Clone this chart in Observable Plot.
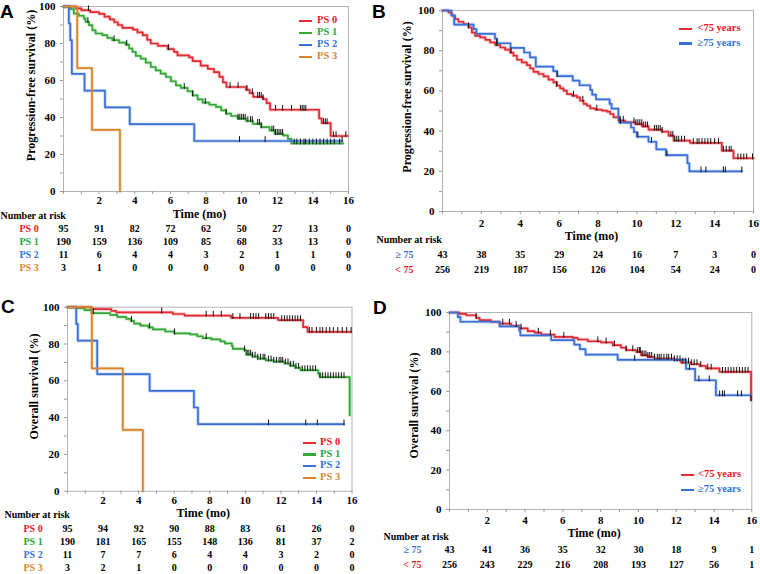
<!DOCTYPE html>
<html><head><meta charset="utf-8">
<script src="https://cdn.jsdelivr.net/npm/d3@7"></script>
<script src="https://cdn.jsdelivr.net/npm/@observablehq/plot@0.6"></script>
<style>
body{margin:0;background:#fff;}
#root{position:relative;width:760px;height:574px;overflow:hidden;font-family:'Liberation Serif','Times New Roman',serif;font-weight:bold;}
.abs{position:absolute;}
.abs svg{background:transparent;max-width:none;}
#root svg, #root svg text{font-family:'Liberation Serif','Times New Roman',serif !important;font-weight:bold !important;}
.letter{position:absolute;font-family:'Liberation Sans',Arial,sans-serif;font-weight:bold;font-size:19px;line-height:1;}
.legtxt{position:absolute;font-size:10.5px;line-height:10.5px;white-space:nowrap;}
.legline{position:absolute;height:2.6px;}
</style></head><body><div id="root"></div>
<script>
// ---------- tick labels ----------
const xTickLabels = [2, 4, 6, 8, 10, 12, 14, 16];
const yTickLabels = [0, 20, 40, 60, 80, 100];
const riskTimes = [0, 2, 4, 6, 8, 10, 12, 14, 16];

// ---------- group names ----------
const psGroups = ["PS 0", "PS 1", "PS 2", "PS 3"];
const ageLegend = ["<75 years", "\u226575 years"];
const ageTable = ["\u2265 75", "< 75"];

// ---------- Panel A: PFS by PS  [month, survival %] ----------
const pfsPS0 = [[0,100],[0.7,99],[1.0,98],[1.5,97],[2.0,96],[2.3,94.5],[2.6,93],[2.85,91.5],[3.05,90],[3.3,88.5],[3.9,87.5],[4.15,86],[4.45,84.5],[4.7,82],[4.9,80],[5.3,78.7],[5.85,77],[6.2,75.5],[6.4,73.6],[7.05,72.5],[7.25,70.5],[7.7,68],[8.1,66.3],[8.45,64.5],[8.75,62],[8.95,59],[9.15,56.5],[10.25,55],[10.45,53.2],[10.65,51.2],[11.2,50],[11.4,47.8],[11.6,44.2],[14.35,39.5],[14.5,37],[15.0,30],[15.95,30]];
const pfsPS0cens = [1.4,5.9,9.35,9.8,10.3,10.6,10.9,11.0,11.1,11.2,11.9,12.3,12.8,13.3,13.4,13.5,13.6,14.6,14.7,14.8,15.15,15.3,15.85];
const pfsPS1 = [[0,100],[0.39,98.6],[0.58,96.2],[0.86,95],[1.15,93.5],[1.24,91.7],[1.43,89.9],[1.62,87.2],[1.8,85.4],[2.18,84.5],[2.46,83],[2.74,81.8],[3.12,80.5],[3.49,79.4],[3.68,77.3],[3.87,75.5],[4.06,73.3],[4.34,71.8],[4.62,69.7],[4.9,67.3],[5.18,65.5],[5.46,63.7],[5.75,61.9],[6.03,59.6],[6.31,57.4],[6.59,56],[6.97,54.2],[7.25,52],[7.53,49.8],[7.81,48],[8.19,46.9],[8.56,45.7],[8.85,43.9],[9.13,42.1],[9.41,40.8],[9.78,39.4],[10.25,38.1],[10.63,36.6],[11.1,34.8],[11.57,33],[11.85,31.2],[12.32,30.3],[12.6,28.5],[12.79,26],[15.7,26]];
const pfsPS1cens = [1.37,2.84,3.55,6.78,7.25,7.96,9.13,9.8,9.9,10.0,10.1,10.2,10.35,10.5,10.6,10.9,11.0,11.1,11.7,11.8,11.9,12.0,12.1,12.2,12.3,12.95,13.1,13.3,13.5,13.6,13.8,14.0,14.2,14.4,14.6,14.8,15.0,15.2,15.5];
const pfsPS2 = [[0,100],[0.3,90.9],[0.38,81.8],[0.47,63.6],[1.18,54.5],[2.33,45.5],[3.72,36.4],[7.34,27.3],[15.64,27.3]];
const pfsPS2cens = [9.88,11.32,15.64];
const pfsPS3 = [[0,100],[0.77,66.7],[1.6,33.3],[3.17,0]];
const pfsPS3cens = [];

// ---------- Panel B: PFS by age ----------
const pfsLt75 = [[0,100],[0.31,99],[0.48,97.4],[0.65,95.7],[0.82,94.4],[1.08,93.2],[1.34,91.6],[1.51,89],[1.68,87.4],[1.94,86.6],[2.2,85.4],[2.45,84.1],[2.71,82.8],[2.97,81.6],[3.22,80.5],[3.48,79.1],[3.65,77.5],[3.83,75.5],[4.08,74.2],[4.34,72.8],[4.51,71.2],[4.68,69.5],[4.94,68.4],[5.2,67.2],[5.45,65.6],[5.71,64.2],[5.88,62.6],[6.05,61.3],[6.23,60.1],[6.4,58.4],[6.66,57.6],[6.91,56.8],[7.08,55.1],[7.26,53.5],[7.43,52.6],[7.6,51.3],[7.86,50.7],[8.2,50.2],[8.46,49.7],[8.63,48.5],[8.8,46.9],[9.06,45.2],[9.4,44.4],[9.91,43.5],[10.26,42.4],[10.6,40.7],[11.29,39.7],[11.63,37.7],[11.89,35.3],[12.74,34.1],[14.37,30.3],[14.97,26.5],[16,26.5]];
const pfsLt75cens = [1.34,2.8,3.53,5.88,6.74,7.22,7.94,9.14,9.3,9.85,9.95,10.05,10.15,10.25,10.35,10.45,10.55,10.9,11.0,11.1,11.2,11.3,11.75,11.85,11.95,12.05,12.15,12.3,12.45,12.9,13.1,13.2,13.35,13.5,13.65,13.8,14.0,14.2,14.45,14.6,14.75,14.85,15.2,15.35,15.5,15.65,15.95];
const pfsGe75 = [[0,100],[0.45,97.7],[0.6,93.0],[1.6,90.7],[1.75,88.4],[2.7,86.0],[2.8,83.7],[3.5,81.4],[4.2,79.1],[4.5,76.7],[4.8,72.1],[5.7,69.8],[5.9,67.4],[6.7,65.1],[7.05,62.8],[7.6,60.5],[7.7,58.1],[7.9,55.8],[8.6,53.5],[8.7,51.2],[9.05,46.5],[9.1,44.2],[9.7,41.8],[9.85,39.5],[10.0,37.2],[10.6,34.7],[11.0,30.9],[11.5,28.0],[12.6,24.0],[12.7,20.0],[15.4,20.0]];
const pfsGe75cens = [2.8,5.9,9.15,10.05,10.75,11.55,13.3,13.55,14.45,14.55,15.4];

// ---------- Panel C: OS by PS ----------
const osPS0 = [[0,100],[1.33,99],[2.46,98],[2.74,97.2],[5.93,96.3],[6.59,95.4],[9.2,94.2],[11.84,93.0],[13.25,89.2],[13.5,86.6],[15.95,86.6]];
const osPS0cens = [5.3,7.8,8.2,8.65,9.3,9.7,10.3,10.45,10.6,10.75,11.15,11.3,11.45,11.6,12.05,12.2,12.35,12.5,12.65,12.8,12.95,13.1,13.6,13.75,14.0,14.2,14.35,14.55,14.75,14.95,15.2,15.45,15.7,15.95];
const osPS1 = [[0,100],[0.5,99.5],[0.95,98.4],[1.35,96.8],[2.4,95.8],[2.8,94.7],[3.3,93.7],[3.55,92.6],[3.75,91.1],[4.1,90.0],[4.55,89.0],[4.8,87.9],[5.5,86.8],[6.0,85.8],[6.9,85.2],[7.3,84.2],[7.6,83.2],[8.1,82.5],[8.6,81.4],[8.85,80.3],[9.25,78.8],[9.3,77.4],[9.95,76.5],[10.05,74.3],[10.4,73.2],[10.7,72.1],[11.15,71.1],[11.6,70.4],[12.2,69.5],[12.5,68.3],[12.8,67.1],[13.1,65.8],[14.1,63.8],[14.2,62.0],[15.87,41.3]];
const osPS1cens = [1.45,3.6,4.62,6.02,7.8,9.96,10.1,10.2,10.3,10.4,10.55,10.7,10.85,11.0,11.1,11.3,11.45,11.6,11.75,11.9,12.0,12.1,12.25,12.4,12.55,12.7,12.85,13.0,13.2,13.35,13.5,13.65,13.8,13.95,14.2,14.35,14.5,14.65,14.8,14.95,15.1,15.25,15.4,15.55];
const osPS2 = [[0,100],[0.49,90.9],[0.58,81.8],[1.67,63.6],[4.62,54.5],[7.11,45.5],[7.34,36.4],[15.55,36.4]];
const osPS2cens = [11.3,13.4,14.05,15.55];
const osPS3 = [[0,100],[1.37,66.7],[3.11,33.3],[4.24,0]];
const osPS3cens = [];

// ---------- Panel D: OS by age ----------
const osLt75 = [[0,100],[0.53,99.3],[0.88,98.6],[1.41,97.3],[1.59,96.1],[2.2,95.3],[2.65,94.4],[3.26,93.2],[3.7,91.9],[4.14,90.5],[4.5,89.8],[4.85,88.8],[5.56,87.6],[6.53,87.1],[6.79,86.3],[7.32,85.4],[8.02,84.8],[8.64,83.4],[9.08,82.1],[9.35,80.9],[9.88,80.0],[10.14,78.3],[10.49,77.5],[10.85,76.6],[11.9,75.8],[12.26,74.6],[12.79,73.8],[13.23,72.9],[13.58,71.6],[14.29,69.9],[15.96,55.5]];
const osLt75cens = [1.41,2.82,3.17,3.53,3.79,4.7,5.34,6.05,7.85,8.29,8.73,9.35,9.7,9.96,10.05,10.1,10.2,10.3,10.4,10.5,10.6,10.7,10.85,11.0,11.1,11.2,11.35,11.5,11.6,11.75,11.9,12.05,12.2,12.35,12.5,12.65,12.8,12.95,13.1,13.3,13.67,13.85,14.45,14.6,14.75,14.9,15.05,15.2,15.35,15.5,15.65,15.8,15.96];
const osGe75 = [[0,100],[0.44,97.7],[0.58,95.3],[2.65,93.0],[3.7,90.7],[3.75,88.4],[5.38,86.0],[6.6,83.7],[6.9,81.4],[7.2,78.6],[8.9,76.0],[12.52,71.4],[13.0,65.6],[14.1,58.0],[15.96,58.0]];
const osGe75cens = [9.8,12.7,13.2,13.75,14.3,14.45,14.55,15.25,15.45];

// ---------- Number at risk ----------
const riskA_PS0 = [95,91,82,72,62,50,27,13,0];
const riskA_PS1 = [190,159,136,109,85,68,33,13,0];
const riskA_PS2 = [11,6,4,4,3,2,1,1,0];
const riskA_PS3 = [3,1,0,0,0,0,0,0,0];
const riskB_Ge75 = [43,38,35,29,24,16,7,3,0];
const riskB_Lt75 = [256,219,187,156,126,104,54,24,0];
const riskC_PS0 = [95,94,92,90,88,83,61,26,0];
const riskC_PS1 = [190,181,165,155,148,136,81,37,2];
const riskC_PS2 = [11,7,7,6,4,4,3,2,0];
const riskC_PS3 = [3,2,1,0,0,0,0,0,0];
const riskD_Ge75 = [43,41,36,35,32,30,18,9,1];
const riskD_Lt75 = [256,243,229,216,208,193,127,56,1];

// ---------- styling ----------
const lineCol = {red:"#e32b34", green:"#35a838", blue:"#3a70d6", orange:"#d8842c"};
const textCol = {red:"#f0141c", green:"#22a83a", blue:"#2f74d8", orange:"#d9842c"};
const psKeys = ["red","green","blue","orange"];
const FONT = "'Liberation Serif','Times New Roman',serif";

const root = document.getElementById("root");

function survAt(curve, t) {
  let s = curve[0][1];
  for (const [ti, si] of curve) { if (ti <= t + 1e-9) s = si; else break; }
  return s;
}
const censorSymbol = {draw(ctx, size) { const r = Math.sqrt(size / Math.PI); ctx.moveTo(0, -r * 1.6); ctx.lineTo(0, r * 0.35); }};

function place(node, left, top, width) {
  const d = document.createElement("div");
  d.className = "abs";
  d.style.left = left + "px"; d.style.top = top + "px"; d.style.width = width + "px";
  d.appendChild(node);
  root.appendChild(d);
}

function kmPlot(c) {
  const marks = [Plot.frame({stroke: "#b3b3b3"})];
  for (const cv of c.curves) {
    const pts = cv.data.map(([t, s]) => ({t, s}));
    marks.push(Plot.line(pts, {x: "t", y: "s", curve: "step-after", stroke: cv.color, strokeWidth: 3.4, strokeOpacity: 0.28}));
    marks.push(Plot.line(pts, {x: "t", y: "s", curve: "step-after", stroke: cv.color, strokeWidth: 1.7}));
  }
  for (const cv of c.curves) {
    const cd = cv.cens.map(t => ({t, s: survAt(cv.data, t)}));
    marks.push(Plot.dot(cd, {x: "t", y: "s", symbol: censorSymbol, r: 3, stroke: "#111", strokeWidth: 1, fill: "none"}));
  }
  marks.push(Plot.axisY(d3.range(0, 101, 10), {tickSize: 3, tickPadding: 5, stroke: "#999", tickFormat: d => yTickLabels.includes(d) ? d : "", fontSize: 11, fontFamily: FONT, fontWeight: "bold"}));
  marks.push(Plot.axisX(d3.range(0, 17, 1), {tickSize: 3, tickPadding: c.xPad, stroke: "#999", tickFormat: d => xTickLabels.includes(d) ? d : "", fontSize: 11, fontFamily: FONT, fontWeight: "bold"}));
  marks.push(Plot.text(["Time (mo)"], {text: d => d, frameAnchor: "bottom", lineAnchor: "middle", textAnchor: "middle", dy: c.timeDy, dx: -6.5, fontSize: 12, fontFamily: FONT, fontWeight: "bold"}));
  marks.push(Plot.text([c.ylabel], {text: d => d, frameAnchor: "left", rotate: -90, lineAnchor: "middle", textAnchor: "middle", dx: c.ylDx, dy: c.ylDy, fontSize: 12, fontFamily: FONT, fontWeight: "bold"}));
  const svg = Plot.plot({
    width: c.width, height: c.height,
    marginLeft: c.ml, marginRight: c.mr, marginTop: c.mt, marginBottom: c.mb,
    x: {domain: [0, 16], label: null},
    y: {domain: [0, 100], label: null},
    style: {fontFamily: FONT, fontWeight: "bold", fontSize: "11px", color: "black", background: "transparent", overflow: "visible"},
    marks
  });
  place(svg, c.left, c.top, c.width);
}

function tablePlot(c) {
  const rows = [];
  c.groups.forEach(g => g.values.forEach((v, i) => rows.push({g: g.label, t: riskTimes[i], v})));
  const svg = Plot.plot({
    width: c.width, height: c.height,
    marginLeft: c.ml, marginRight: c.mr, marginTop: c.mt, marginBottom: c.mb,
    x: {domain: [0, 16], axis: null},
    y: {type: "point", domain: c.groups.map(g => g.label), padding: 0.5, axis: null},
    color: {type: "identity"},
    style: {fontFamily: FONT, fontWeight: "bold", fontSize: "10px", color: "black", background: "transparent", overflow: "visible"},
    marks: [
      Plot.text(rows, {x: "t", y: "g", text: d => String(d.v), fontSize: 10, fontFamily: FONT, fontWeight: "bold"}),
      Plot.text(c.groups, {y: "label", text: "label", fill: "color", frameAnchor: "left", lineAnchor: "middle", textAnchor: c.labelAnchor, dx: c.labelDx, fontSize: 10, fontFamily: FONT, fontWeight: "bold"}),
      Plot.text(["Number at risk"], {text: d => d, frameAnchor: "top-left", lineAnchor: "middle", textAnchor: "start", dx: c.narDx, dy: c.narDy, fontSize: 10, fontFamily: FONT, fontWeight: "bold"})
    ]
  });
  place(svg, c.left, c.top, c.width);
}

function legend(items, lineX, textX, ys) {
  items.forEach((it, i) => {
    const l = document.createElement("div");
    l.className = "legline";
    l.style.left = lineX + "px"; l.style.top = (ys[i] - 1.3) + "px"; l.style.width = "12.5px"; l.style.background = it.line;
    root.appendChild(l);
    const t = document.createElement("div");
    t.className = "legtxt";
    t.style.left = textX + "px"; t.style.top = (ys[i] - 5.6) + "px"; t.style.color = it.text;
    t.textContent = it.label;
    root.appendChild(t);
  });
}

function letter(ch, left, top) {
  const d = document.createElement("div");
  d.className = "letter"; d.textContent = ch;
  d.style.left = left + "px"; d.style.top = top + "px";
  root.appendChild(d);
}

// ----- Panel A -----
kmPlot({left: 0, top: 0, width: 370, height: 222, ml: 63, mr: 22, mt: 6, mb: 31, xPad: 2, timeDy: 22.5, ylDx: -32.5, ylDy: -13.5,
  ylabel: "Progression-free survival (%)",
  curves: [
    {data: pfsPS0, cens: pfsPS0cens, color: lineCol.red},
    {data: pfsPS1, cens: pfsPS1cens, color: lineCol.green},
    {data: pfsPS2, cens: pfsPS2cens, color: lineCol.blue},
    {data: pfsPS3, cens: pfsPS3cens, color: lineCol.orange}
  ]});
tablePlot({left: 0, top: 205, width: 370, height: 72, ml: 63, mr: 22, mt: 16, mb: 3, labelAnchor: "start", labelDx: -44, narDx: -63, narDy: -5.5,
  groups: [
    {label: psGroups[0], values: riskA_PS0, color: textCol.red},
    {label: psGroups[1], values: riskA_PS1, color: textCol.green},
    {label: psGroups[2], values: riskA_PS2, color: textCol.blue},
    {label: psGroups[3], values: riskA_PS3, color: textCol.orange}
  ]});
legend(psGroups.map((g, i) => ({label: g, line: lineCol[psKeys[i]], text: textCol[psKeys[i]]})), 299, 317, [21, 33, 45, 57]);
letter("A", 0, 2);

// ----- Panel B -----
kmPlot({left: 380, top: 0, width: 380, height: 240, ml: 62, mr: 7, mt: 10, mb: 29, xPad: 5, timeDy: 25, ylDx: -35, ylDy: -14,
  ylabel: "Progression-free survival (%)",
  curves: [
    {data: pfsLt75, cens: pfsLt75cens, color: lineCol.red},
    {data: pfsGe75, cens: pfsGe75cens, color: lineCol.blue}
  ]});
tablePlot({left: 370, top: 230, width: 390, height: 50, ml: 72, mr: 7, mt: 16, mb: 4, labelAnchor: "end", labelDx: -29, narDx: -66, narDy: -7,
  groups: [
    {label: ageTable[0], values: riskB_Ge75, color: textCol.blue},
    {label: ageTable[1], values: riskB_Lt75, color: textCol.red}
  ]});
legend([{label: ageLegend[0], line: lineCol.red, text: textCol.red}, {label: ageLegend[1], line: lineCol.blue, text: textCol.blue}], 679, 697.5, [29, 43.5]);
letter("B", 372, 2);

// ----- Panel C -----
kmPlot({left: 0, top: 290, width: 370, height: 230, ml: 67, mr: 18.5, mt: 16.7, mb: 29.3, xPad: 1.5, timeDy: 21.8, ylDx: -33, ylDy: -12.7,
  ylabel: "Overall survival (%)",
  curves: [
    {data: osPS0, cens: osPS0cens, color: lineCol.red},
    {data: osPS1, cens: osPS1cens, color: lineCol.green},
    {data: osPS2, cens: osPS2cens, color: lineCol.blue},
    {data: osPS3, cens: osPS3cens, color: lineCol.orange}
  ]});
tablePlot({left: 0, top: 505, width: 370, height: 71, ml: 67, mr: 18.5, mt: 16, mb: 2, labelAnchor: "start", labelDx: -44, narDx: -63, narDy: -7,
  groups: [
    {label: psGroups[0], values: riskC_PS0, color: textCol.red},
    {label: psGroups[1], values: riskC_PS1, color: textCol.green},
    {label: psGroups[2], values: riskC_PS2, color: textCol.blue},
    {label: psGroups[3], values: riskC_PS3, color: textCol.orange}
  ]});
legend(psGroups.map((g, i) => ({label: g, line: lineCol[psKeys[i]], text: textCol[psKeys[i]]})), 303, 320, [443, 454.5, 466, 478]);
letter("C", 1, 297);

// ----- Panel D -----
kmPlot({left: 380, top: 290, width: 380, height: 250, ml: 69, mr: 8.7, mt: 22, mb: 31, xPad: 4, timeDy: 24, ylDx: -35, ylDy: -5.5,
  ylabel: "Overall survival (%)",
  curves: [
    {data: osLt75, cens: osLt75cens, color: lineCol.red},
    {data: osGe75, cens: osGe75cens, color: lineCol.blue}
  ]});
tablePlot({left: 370, top: 527, width: 390, height: 47.5, ml: 79, mr: 8.7, mt: 14.5, mb: 3, labelAnchor: "end", labelDx: -28, narDx: -66, narDy: -5.5,
  groups: [
    {label: ageTable[0], values: riskD_Ge75, color: textCol.blue},
    {label: ageTable[1], values: riskD_Lt75, color: textCol.red}
  ]});
legend([{label: ageLegend[0], line: lineCol.red, text: textCol.red}, {label: ageLegend[1], line: lineCol.blue, text: textCol.blue}], 681, 698, [475, 490]);
letter("D", 373, 298);
</script></body></html>
